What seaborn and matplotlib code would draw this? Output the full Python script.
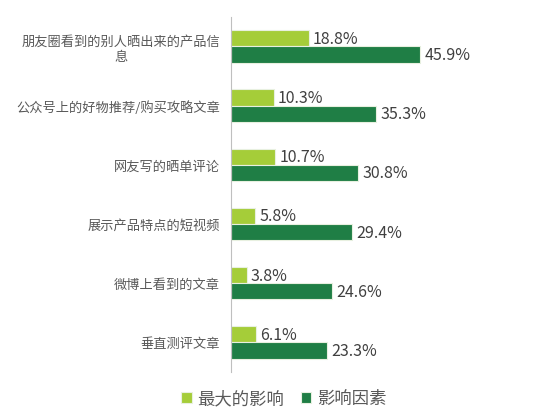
import pandas as pd
import seaborn as sns
import matplotlib.pyplot as plt

# Chart data
categories = ["朋友圈看到的别人晒出来的产品信\n息", "公众号上的好物推荐/购买攻略文章",
              "网友写的晒单评论", "展示产品特点的短视频", "微博上看到的文章", "垂直测评文章"]
series_names = ["最大的影响", "影响因素"]
biggest = [18.8, 10.3, 10.7, 5.8, 3.8, 6.1]
factors = [45.9, 35.3, 30.8, 29.4, 24.6, 23.3]

df = pd.DataFrame({
    "category": categories * 2,
    "series": [series_names[0]] * len(categories) + [series_names[1]] * len(categories),
    "value": biggest + factors,
})

sns.set_theme(style="white")
plt.rcParams['font.family'] = ['Noto Sans CJK SC', 'DejaVu Sans']

fig = plt.figure(figsize=(5.53, 4.14), dpi=100)
ax = fig.add_axes([0.418, 0.099, 0.558, 0.858])

palette = ["#a5cd39", "#1f7e45"]
sns.barplot(data=df, y="category", x="value", hue="series", orient="h",
            palette=palette, width=0.55, edgecolor="#e8f0e0", linewidth=0.8,
            saturation=1, ax=ax)

for cont in ax.containers:
    ax.bar_label(cont, labels=[f"{v:.1f}%" for v in cont.datavalues],
                 padding=3, fontsize=11.5, color="#404040")

ax.set_xlim(0, 75)
ax.set_xlabel("")
ax.set_ylabel("")
ax.set_xticks([])
ax.tick_params(axis="y", length=0, pad=8, labelsize=9.5, labelcolor="#595959")
for lbl in ax.get_yticklabels():
    lbl.set_multialignment("center")

for s in ["top", "right", "bottom"]:
    ax.spines[s].set_visible(False)
ax.spines["left"].set_color("#bfbfbf")
ax.spines["left"].set_linewidth(0.8)

ax.legend(loc="upper center", bbox_to_anchor=(0.17, -0.005), ncol=2, frameon=False,
          fontsize=12.5, handlelength=0.6, handleheight=0.6, handletextpad=0.3,
          columnspacing=1.0, labelcolor="#595959")

fig.savefig("out.png", dpi=100)
